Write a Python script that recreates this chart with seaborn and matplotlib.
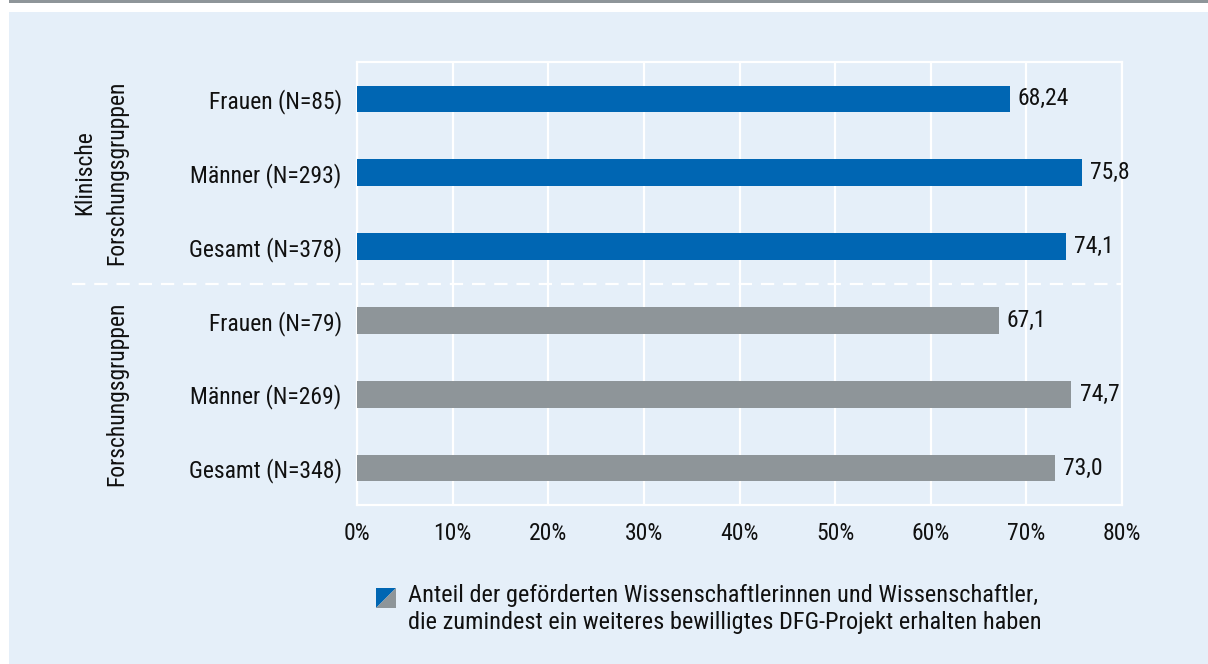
import matplotlib
matplotlib.use("Agg")
import matplotlib.pyplot as plt
from matplotlib.patches import Polygon, Rectangle
from matplotlib import font_manager
import seaborn as sns
import pandas as pd

# data
groups = ["Klinische\nForschungsgruppen"] * 3 + ["Forschungsgruppen"] * 3
labels = ["Frauen (N=85)", "Männer (N=293)", "Gesamt (N=378)",
          "Frauen (N=79)", "Männer (N=269)", "Gesamt (N=348)"]
values = [68.24, 75.8, 74.1, 67.1, 74.7, 73.0]
value_text = ["68,24", "75,8", "74,1", "67,1", "74,7", "73,0"]
x_ticks = [0, 10, 20, 30, 40, 50, 60, 70, 80]

BLUE = "#0066b3"
GRAY = "#8e9599"
BG = "#e5eff9"
INK = "#111111"
FS = 17

df = pd.DataFrame({"group": groups, "label": labels, "value": values})

sns.set_style("white")
names = {f.name for f in font_manager.fontManager.ttflist}
narrow = [n for n in ["Roboto Condensed", "Open Sans Condensed", "Liberation Sans Narrow",
                      "Roboto"] if n in names]
plt.rcParams["font.family"] = narrow[:1] + ["DejaVu Sans"]
plt.rcParams["text.color"] = INK
plt.rcParams["xtick.color"] = INK
plt.rcParams["ytick.color"] = INK

fig = plt.figure(figsize=(12.08, 6.64), dpi=100)
fig.patch.set_facecolor("white")
# light blue panel and grey rule on top
fig.add_artist(Rectangle((9 / 1208, 0), 1, 1 - 12 / 664, transform=fig.transFigure,
                         facecolor=BG, edgecolor="none", zorder=0))
fig.add_artist(Rectangle((9 / 1208, 1 - 3 / 664), 1, 3 / 664, transform=fig.transFigure,
                         facecolor=GRAY, edgecolor="none", zorder=0))

ax = fig.add_axes([357 / 1208, 1 - 505 / 664, (1122 - 357) / 1208, (505 - 62) / 664])
ax.set_facecolor(BG)

sns.barplot(data=df, x="value", y="label", hue="group", orient="h",
            palette=[BLUE, GRAY], width=0.36, dodge=False, legend=False,
            saturation=1, linewidth=0, ax=ax, zorder=3)

group_names = list(dict.fromkeys(groups))
for g, cont in zip(group_names, ax.containers):
    txt = [value_text[i] for i, gg in enumerate(groups) if gg == g]
    ax.bar_label(cont, labels=txt, padding=6, fontsize=FS, color=INK)

ax.set_xlim(0, 80)
ax.set_ylim(5.5, -0.5)
ax.set_xticks(x_ticks)
ax.set_xticklabels([f"{t}%" for t in x_ticks], fontsize=FS)
ax.tick_params(axis="y", labelsize=FS, length=0, pad=11)
ax.tick_params(axis="x", length=0, pad=12)
ax.set_xlabel("")
ax.set_ylabel("")
ax.grid(axis="x", color="white", linewidth=1.6, zorder=1)
for s in ax.spines.values():
    s.set_color("white")
    s.set_linewidth(1.6)

# dashed separator between the two groups, reaching into the label area
ax.plot([-29.8, 80], [2.5, 2.5], color="white",
        linestyle=(0, (6, 4)), linewidth=1.6, clip_on=False, zorder=4)

# group labels
ax.text(-26.8, 1, "Klinische\nForschungsgruppen", rotation=90, ha="center", va="center",
        fontsize=FS, linespacing=1.45)
ax.text(-25.1, 4.0, "Forschungsgruppen", rotation=90, ha="center", va="center",
        fontsize=FS)

# legend: square split diagonally blue / grey
x0, x1 = 376 / 1208, 396 / 1208
y0, y1 = 1 - 608 / 664, 1 - 588 / 664
fig.add_artist(Polygon([(x0, y0), (x0, y1), (x1, y1)], closed=True, transform=fig.transFigure,
                       facecolor=BLUE, edgecolor="none"))
fig.add_artist(Polygon([(x0, y0), (x1, y0), (x1, y1)], closed=True, transform=fig.transFigure,
                       facecolor=GRAY, edgecolor="none"))
fig.text(408 / 1208, 1 - 584 / 664,
         "Anteil der geförderten Wissenschaftlerinnen und Wissenschaftler,\n"
         "die zumindest ein weiteres bewilligtes DFG-Projekt erhalten haben",
         ha="left", va="top", fontsize=FS + 0.6, linespacing=1.22)

fig.savefig("out.png", dpi=100, facecolor=fig.get_facecolor())
